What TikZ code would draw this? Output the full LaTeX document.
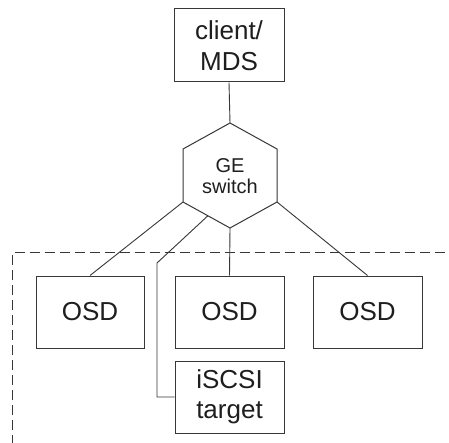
\documentclass[tikz,border=0pt]{standalone}
\usepackage{fontspec}
\setmainfont{Liberation Sans}
\usetikzlibrary{calc}
\definecolor{linec}{RGB}{55,55,55}
\definecolor{textc}{RGB}{30,30,30}
\begin{document}
\begin{tikzpicture}[x=1pt,y=-1pt,line width=1pt,
  box/.style={draw=linec, text=textc, inner sep=0pt, align=center,
    font=\fontsize{26}{30.5}\selectfont},
  wire/.style={draw=linec, line width=0.9pt},
  border/.style={draw=linec, line width=1pt, dash pattern=on 10pt off 5pt}]
\useasboundingbox (0,0) rectangle (449,443);
\fill[white] (0,0) rectangle (449,443);
% boxes
\node[box, minimum width=110pt, minimum height=73pt] (client) at (229,45.5) {client/\\MDS};
\node[box, minimum width=108pt, minimum height=72pt] (osd1) at (90,312) {OSD};
\node[box, minimum width=109pt, minimum height=72pt] (osd2) at (229.5,312) {OSD};
\node[box, minimum width=109pt, minimum height=72pt] (osd3) at (367.5,312) {OSD};
\node[box, minimum width=109pt, minimum height=72pt] (iscsi) at (229.5,397) {iSCSI\\target};
% hexagon switch
\coordinate (htop) at (230,123);
\coordinate (hul) at (183,149);
\coordinate (hll) at (183,202);
\coordinate (hbot) at (230,228);
\coordinate (hlr) at (277,202);
\coordinate (hur) at (277,149);
\draw[linec] (htop) -- (hul) -- (hll) -- (hbot) -- (hlr) -- (hur) -- cycle;
\node[text=textc, align=center, inner sep=0pt, font=\fontsize{20}{21.5}\selectfont] (sw) at (230,176) {GE\\switch};
% connectors
\draw[wire] (client.south) -- (htop);
\draw[wire] (hll) -- (osd1.north);
\draw[wire] (hbot) -- (osd2.north);
\draw[wire] (hlr) -- (osd3.north);
\coordinate (hs) at ($(hll)!0.53!(hbot)$);
\coordinate (bend) at (157,263);
\draw[wire] (hs) -- (bend) |- (iscsi.west);
% dashed enclosure
\draw[border] (12,445) -- (12,252.5) -- (452,252.5);
\end{tikzpicture}
\end{document}
